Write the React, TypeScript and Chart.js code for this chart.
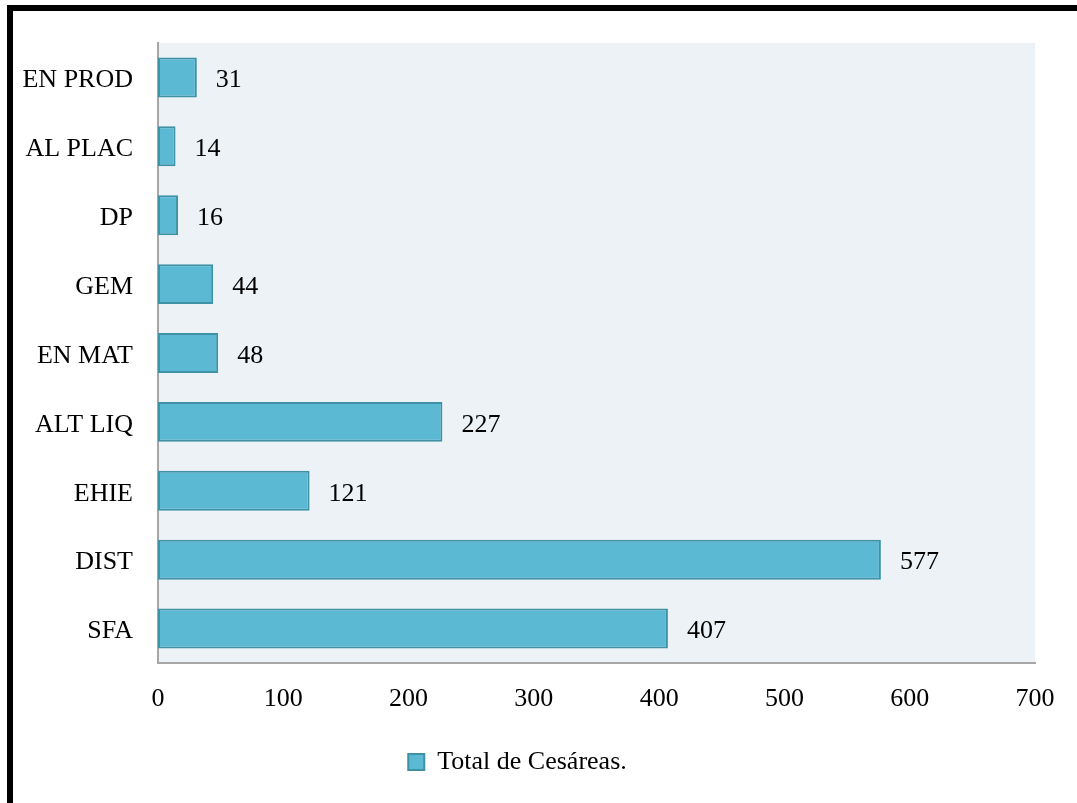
import React, { useEffect, useRef } from "react";
import { Chart, registerables } from "chart.js";

Chart.register(...registerables);

const categories = ["EN PROD", "AL PLAC", "DP", "GEM", "EN MAT", "ALT LIQ", "EHIE", "DIST", "SFA"];
const values = [31, 14, 16, 44, 48, 227, 121, 577, 407];
const seriesLabel = "Total de Cesáreas.";
const xTicks = [0, 100, 200, 300, 400, 500, 600, 700];

const FONT = "'Liberation Serif', 'DejaVu Serif', serif";
const FS = 26;

const bgPlugin = {
  id: "plotBg",
  beforeDraw(chart: any) {
    const { ctx, chartArea } = chart;
    ctx.save();
    ctx.fillStyle = "#EDF2F6";
    ctx.fillRect(chartArea.left, chartArea.top, chartArea.right - chartArea.left, chartArea.bottom - chartArea.top);
    ctx.restore();
  },
};

const labelPlugin = {
  id: "valueLabels",
  afterDatasetsDraw(chart: any) {
    const { ctx } = chart;
    const meta = chart.getDatasetMeta(0);
    ctx.save();
    ctx.font = `${FS}px ${FONT}`;
    ctx.fillStyle = "#000";
    ctx.textAlign = "left";
    ctx.textBaseline = "middle";
    meta.data.forEach((bar: any, i: number) => {
      ctx.fillText(String(values[i]), bar.x + 19, bar.y + 3);
    });
    ctx.restore();
  },
};

export default function App() {
  const ref = useRef<HTMLCanvasElement>(null);
  useEffect(() => {
    if (!ref.current) return;
    const chart = new Chart(ref.current, {
      type: "bar",
      data: {
        labels: categories,
        datasets: [
          {
            label: seriesLabel,
            data: values,
            backgroundColor: "#5BB9D3",
            borderColor: "#3F92A6",
            borderWidth: 2,
            borderSkipped: false,
            barPercentage: 0.58,
            categoryPercentage: 1,
          },
        ],
      },
      options: {
        indexAxis: "y",
        animation: false,
        responsive: false,
        maintainAspectRatio: false,
        layout: { padding: { left: 0, top: 43, right: 42, bottom: 18 } },
        scales: {
          x: {
            min: 0,
            max: 700,
            afterBuildTicks(scale: any) {
              scale.ticks = xTicks.map((v) => ({ value: v }));
            },
            afterFit(scale: any) {
              scale.height = 78;
            },
            grid: { display: false, drawTicks: false },
            border: { display: true, color: "#A6A6A6", width: 2 },
            ticks: { color: "#000", font: { family: FONT, size: FS }, padding: 21 },
          },
          y: {
            afterFit(scale: any) {
              scale.width = 158;
            },
            grid: { display: false, drawTicks: false },
            border: { display: true, color: "#A6A6A6", width: 2 },
            ticks: { color: "#000", font: { family: FONT, size: FS }, padding: 25, labelOffset: 3 },
          },
        },
        plugins: {
          legend: {
            position: "bottom",
            labels: {
              color: "#000",
              font: { family: FONT, size: FS },
              boxWidth: 16,
              boxHeight: 16,
              padding: 8,
            },
          },
          tooltip: { enabled: false },
        },
      },
      plugins: [bgPlugin, labelPlugin],
    });
    return () => chart.destroy();
  }, []);

  return (
    <div style={{ position: "fixed", left: 0, top: 0, width: 1077, height: 803, background: "#fff", overflow: "hidden" }}>
      <canvas ref={ref} width={1077} height={803} style={{ position: "absolute", left: 0, top: 0 }} />
      <div
        style={{
          position: "absolute",
          left: 7,
          top: 5,
          width: 1100,
          height: 900,
          borderTop: "6px solid #000",
          borderLeft: "6px solid #000",
          boxSizing: "border-box",
          pointerEvents: "none",
        }}
      />
    </div>
  );
}
